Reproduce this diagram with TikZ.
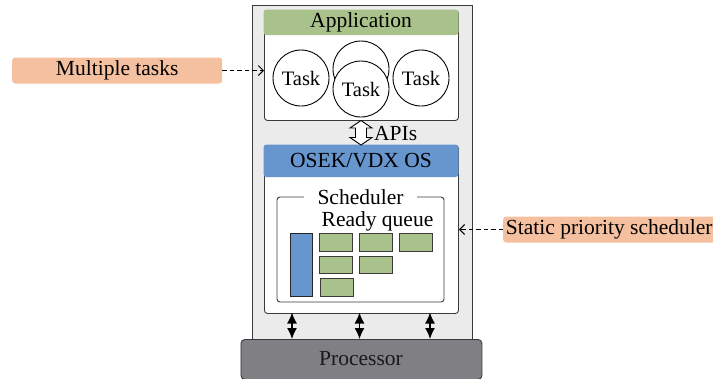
\documentclass[tikz,border=0pt]{standalone}
\usepackage{fontspec}
\setmainfont{Liberation Serif}
\usetikzlibrary{arrows.meta}
\definecolor{bggray}{HTML}{EBEBEB}
\definecolor{appgreen}{HTML}{A9C18B}
\definecolor{osblue}{HTML}{6795CE}
\definecolor{tagorange}{HTML}{F5C09F}
\definecolor{procgray}{HTML}{808084}
\definecolor{edgegray}{HTML}{3A3A3A}
\tikzset{
  txt/.style={font=\fontsize{21.5}{25}\selectfont, inner sep=0pt},
  panel/.style={draw=edgegray, line width=0.9pt, rounded corners=3pt, fill=white},
  taskc/.style={draw=black, line width=0.9pt, fill=white, circle, minimum size=56pt, inner sep=0pt, font=\fontsize{20.5}{24}\selectfont},
  qgreen/.style={draw=edgegray, line width=0.9pt, fill=appgreen},
  tag/.style={fill=tagorange, rounded corners=3pt, font=\fontsize{21.5}{25}\selectfont, inner sep=0pt},
  dasharrow/.style={line width=1pt, dash pattern=on 4.5pt off 3pt, -{Straight Barb[length=5pt,width=10pt]}},
  busarrow/.style={line width=1.3pt, {Latex[length=11pt,width=10pt]}-{Latex[length=11pt,width=10pt]}}
}
\begin{document}
\begin{tikzpicture}[x=1pt,y=-1pt]
\useasboundingbox (0,0) rectangle (713,378);
% outer grey container
\draw[fill=bggray, draw=edgegray, line width=0.9pt] (252,5) rectangle (472,345);
% application panel
\node[panel, minimum width=194pt, minimum height=110pt, anchor=north west] (app) at (264,10) {};
\fill[appgreen, rounded corners=3pt] (263.5,9.5) rectangle (458.5,35);
\node[txt] (apptitle) at (361,22) {Application};
% tasks
\node[taskc] (t1) at (301,78) {Task};
\node[taskc] (t2) at (361,69) {};
\node[taskc] (t3) at (361,89) {};
\node[font=\fontsize{20.5}{24}\selectfont, inner sep=0pt] (t3l) at (361,89) {Task};
\node[taskc] (t4) at (421,78) {Task};
% OS panel
\node[panel, minimum width=194pt, minimum height=168pt, anchor=north west] (os) at (264,145) {};
\fill[osblue, rounded corners=3pt] (263.5,144.5) rectangle (458.5,177);
\node[txt] (ostitle) at (361,161) {OSEK/VDX OS};
% APIs hollow double arrow
\draw[line width=0.9pt, fill=white] (361,120.5) -- (372,128) -- (366.5,128) -- (366.5,137.5) -- (372,137.5) -- (361,145) -- (350,137.5) -- (355.5,137.5) -- (355.5,128) -- (350,128) -- cycle;
\node[txt, anchor=west] (apis) at (374,134) {APIs};
% scheduler
\draw[draw=edgegray, line width=0.9pt, rounded corners=3pt] (277,197) rectangle (444,302);
\node[txt, fill=white, inner xsep=14pt, inner ysep=1pt] (sched) at (360.5,197) {Scheduler};
\node[txt] (rq) at (377.5,221) {Ready queue};
\draw[draw=black!85, line width=1pt, fill=osblue] (290,233) rectangle (312,296);
\draw[qgreen] (319,233) rectangle (352,251);
\draw[qgreen] (359,233) rectangle (392,251);
\draw[qgreen] (399,233) rectangle (432,251);
\draw[qgreen] (319,256) rectangle (352,273);
\draw[qgreen] (359,256) rectangle (392,273);
\draw[qgreen] (320,278) rectangle (353,296);
% processor
\node[draw=edgegray, line width=0.9pt, fill=procgray, rounded corners=4pt, minimum width=241pt, minimum height=40pt, anchor=north west] (proc) at (240.5,339) {};
\node[txt, text=black!90] (proctxt) at (361,359) {Processor};
% bus arrows
\draw[busarrow] (292,312.5) -- (292,339);
\draw[busarrow] (359.5,312.5) -- (359.5,339);
\draw[busarrow] (430,312.5) -- (430,339);
% side tags
\node[tag, minimum width=210pt, minimum height=26pt, anchor=west] (mt) at (12,70.5) {Multiple tasks};
\draw[dasharrow] (mt.east) -- (app.west |- mt.east);
\node[tag, minimum width=212pt, minimum height=26pt, anchor=west] (sp) at (503,229.5) {Static priority scheduler};
\draw[dasharrow] (sp.west) -- (os.east |- sp.west);
\end{tikzpicture}
\end{document}
